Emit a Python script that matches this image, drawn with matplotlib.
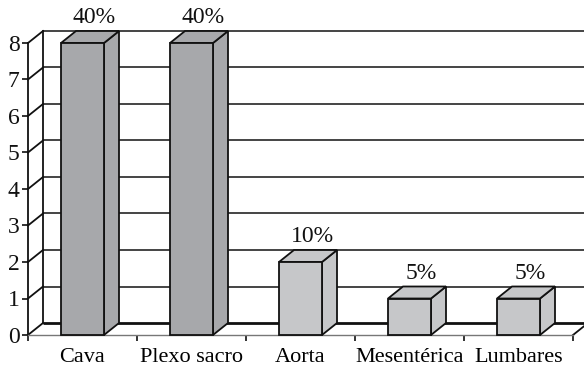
import matplotlib
matplotlib.use("Agg")
import matplotlib.pyplot as plt
from matplotlib.patches import Polygon

categories = ["Cava", "Plexo sacro", "Aorta", "Mesentérica", "Lumbares"]
values = [8, 8, 2, 1, 1]
percent_labels = ["40%", "40%", "10%", "5%", "5%"]
yticks = [0, 1, 2, 3, 4, 5, 6, 7, 8]

W, H = 584, 368
fig = plt.figure(figsize=(W / 100, H / 100), dpi=100)
ax = fig.add_axes([0, 0, 1, 1])

# pixel geometry -> data scale
px_x0, px_cat = 28, 109.0          # x=0 at 28 px, 109 px per category
px_y0, px_unit = 368 - 335, 36.5   # y=0 at 335 px from top
ax.set_xlim(-px_x0 / px_cat, (W - px_x0) / px_cat)
ax.set_ylim(-px_y0 / px_unit, (H - px_y0) / px_unit)

dx = 15 / px_cat     # depth offset in data units
dy = 12 / px_unit
n = len(categories)
ymax = max(yticks)
lc = "#111111"

# back wall gridlines and side wall diagonals
for v in yticks:
    lw = 2.0 if v == 0 else 1.4
    col = "#111111" if v == 0 else "#444444"
    ax.plot([dx, 6], [v + dy, v + dy], color=col, lw=lw, solid_capstyle="butt", zorder=1)
    ax.plot([0, dx], [v, v + dy], color=lc, lw=1.3, zorder=1)
# back wall left edge
ax.plot([dx, dx], [dy, ymax + dy], color=lc, lw=1.3, zorder=1)
# floor right diagonal
ax.plot([n, n + dx], [0, dy], color=lc, lw=1.3, zorder=1)

# bars
bw = 43 / px_cat
for i, (v, lab) in enumerate(zip(values, percent_labels)):
    fc = "#a7a8ab" if v >= 4 else "#c6c7c9"
    x0 = i + 0.5 - bw / 2
    x1 = x0 + bw
    front = Polygon([(x0, 0), (x1, 0), (x1, v), (x0, v)], closed=True,
                    facecolor=fc, edgecolor=lc, lw=1.3, zorder=3)
    side = Polygon([(x1, 0), (x1 + dx, dy), (x1 + dx, v + dy), (x1, v)], closed=True,
                   facecolor=fc, edgecolor=lc, lw=1.3, zorder=3)
    top = Polygon([(x0, v), (x1, v), (x1 + dx, v + dy), (x0 + dx, v + dy)], closed=True,
                  facecolor=fc, edgecolor=lc, lw=1.3, zorder=3)
    for p in (side, top, front):
        ax.add_patch(p)
    ax.text(i + 0.5 + dx / 2 + 0.04, v + dy + 0.07, lab, ha="center", va="bottom",
            fontsize=17, family="Liberation Serif", color="#111111", zorder=4)

# spines as front axes
for s in ("top", "right"):
    ax.spines[s].set_visible(False)
ax.spines["left"].set_position(("data", 0))
ax.spines["left"].set_bounds(0, ymax)
ax.spines["left"].set_linewidth(1.3)
ax.spines["left"].set_color(lc)
ax.spines["bottom"].set_position(("data", 0))
ax.spines["bottom"].set_bounds(0, n)
ax.spines["bottom"].set_linewidth(1.0)
ax.spines["bottom"].set_color("#777777")

ax.set_yticks(yticks)
ax.set_yticklabels([str(t) for t in yticks], family="Liberation Serif", fontsize=17)
ax.tick_params(axis="y", direction="out", length=4, width=1.2, pad=2, colors=lc)

ax.set_xticks([i + 0.5 for i in range(n)])
ax.set_xticklabels(categories, family="Liberation Serif", fontsize=16)
ax.tick_params(axis="x", which="major", length=0, pad=9)
ax.set_xticks(list(range(n + 1)), minor=True)
ax.tick_params(axis="x", which="minor", direction="out", length=4, width=1.2, colors=lc)

fig.savefig("out.png", dpi=100)
